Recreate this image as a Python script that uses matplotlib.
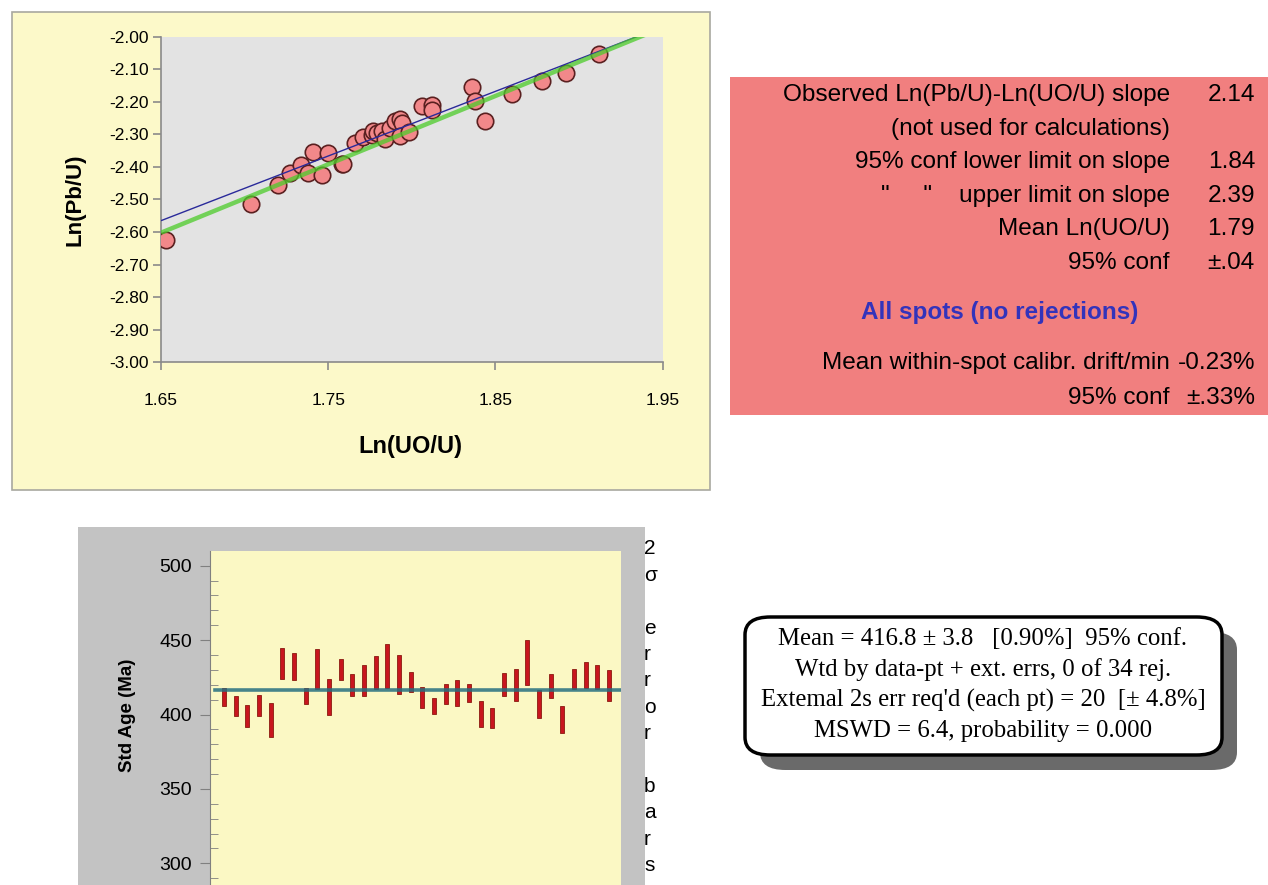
import matplotlib
matplotlib.use("Agg")
import matplotlib.pyplot as plt
from matplotlib.patches import Rectangle, FancyBboxPatch
import numpy as np

W, H = 1268, 885

# --- calibration scatter: Ln(UO/U) vs Ln(Pb/U) ---
ln_uo_u = [1.653, 1.704, 1.720, 1.727, 1.734, 1.738, 1.741, 1.746, 1.750,
           1.758, 1.759, 1.766, 1.771, 1.776, 1.777, 1.779, 1.782, 1.784,
           1.787, 1.790, 1.793, 1.794, 1.793, 1.798, 1.806, 1.812, 1.812,
           1.836, 1.838, 1.844, 1.860, 1.878, 1.892, 1.912]
ln_pb_u = [-2.624, -2.514, -2.455, -2.418, -2.394, -2.420, -2.353, -2.425, -2.358,
           -2.392, -2.392, -2.327, -2.307, -2.302, -2.289, -2.295, -2.289, -2.314,
           -2.280, -2.260, -2.254, -2.266, -2.305, -2.292, -2.212, -2.210, -2.225,
           -2.154, -2.198, -2.259, -2.175, -2.137, -2.111, -2.052]

# fit lines: value at x=1.65 and slope
fit_names = ["observed", "weighted"]
fit_start = [-2.565, -2.602]
fit_slope = [1.986, 2.10]
fit_colors = ["#2a2a9a", "#4ccc2a"]
fit_widths = [1.0, 3.2]

x_ticks = [1.65, 1.75, 1.85, 1.95]
y_ticks = [-3.0, -2.9, -2.8, -2.7, -2.6, -2.5, -2.4, -2.3, -2.2, -2.1, -2.0]

# --- standard ages with 2 sigma error bars ---
age_top = [417.5, 412.3, 406.7, 413.4, 407.9, 444.8, 441.5, 418.1, 443.7, 424.2,
           437.6, 427.5, 433.1, 439.2, 447.2, 440.3, 428.5, 418.6, 411.2, 420.4,
           423.0, 420.4, 409.0, 404.5, 428.2, 430.9, 450.4, 416.3, 427.5, 405.6,
           430.9, 435.4, 433.1, 429.8]
age_bottom = [405.6, 399.1, 391.3, 399.1, 385.0, 424.2, 423.1, 406.9, 417.0, 400.0,
              423.1, 412.6, 412.6, 417.0, 418.1, 414.1, 415.3, 404.5, 400.2, 406.9,
              405.6, 408.5, 391.7, 391.1, 412.6, 409.2, 419.7, 397.8, 411.4, 387.4,
              417.0, 418.1, 417.0, 409.2]
mean_age = 416.8

stats_labels = ["Observed Ln(Pb/U)-Ln(UO/U) slope",
                "(not used for calculations)",
                "95% conf lower limit on slope",
                "\"     \"    upper limit on slope",
                "Mean Ln(UO/U)",
                "95% conf",
                "Mean within-spot calibr. drift/min",
                "95% conf"]
stats_values = ["2.14", "", "1.84", "2.39", "1.79", "\u00b1.04", "-0.23%", "\u00b1.33%"]
stats_rows_y = [95, 129, 162, 196, 229, 263, 363, 398]

box_lines = ["Mean = 416.8 \u00b1 3.8   [0.90%]  95% conf.",
             "Wtd by data-pt + ext. errs, 0 of 34 rej.",
             "Extemal 2s err req'd (each pt) = 20  [\u00b1 4.8%]",
             "MSWD = 6.4, probability = 0.000"]

plt.rcParams['font.family'] = ['Liberation Sans', 'DejaVu Sans']


def px_rect(l, t, r, b):
    return [l / W, 1 - b / H, (r - l) / W, (b - t) / H]


fig = plt.figure(figsize=(W / 100, H / 100), dpi=100)
fig.patch.set_facecolor("white")

# backgrounds (behind the axes)
fig.patches.append(Rectangle((12 / W, 1 - 490 / H), 698 / W, 478 / H, transform=fig.transFigure,
                             facecolor="#fcf9c9", edgecolor="#a8a8a0", lw=1.2, zorder=-2))
fig.patches.append(Rectangle((78 / W, 0), 567 / W, 1 - 527 / H, transform=fig.transFigure,
                             facecolor="#c3c3c3", edgecolor="none", zorder=-2))
fig.patches.append(Rectangle((730 / W, 1 - 415 / H), 538 / W, 338 / H, transform=fig.transFigure,
                             facecolor="#f17f7f", edgecolor="none", zorder=-2))

# ---- scatter panel ----
ax = fig.add_axes(px_rect(161, 36.7, 662.7, 362.3))
ax.set_facecolor("#e3e3e3")
ax.scatter(ln_uo_u, ln_pb_u, s=140, facecolor="#f2888a", edgecolor="#5a2020", linewidth=1.2, zorder=3)
xx = np.array([1.65, 1.95])
for start, slope, col, lw in zip(fit_start, fit_slope, fit_colors, fit_widths):
    alpha = 1.0 if lw < 2 else 0.75
    ax.plot(xx, start + slope * (xx - 1.65), color=col, lw=lw, alpha=alpha, zorder=4,
            solid_capstyle="butt")
ax.set_xlim(1.65, 1.95)
ax.set_ylim(-3.0, -2.0)
ax.set_xticks(x_ticks)
ax.set_xticklabels([f"{v:.2f}" for v in x_ticks])
ax.set_yticks(y_ticks)
ax.set_yticklabels([f"{v:.2f}" for v in y_ticks])
for s in ["top", "right"]:
    ax.spines[s].set_visible(False)
for s in ["left", "bottom"]:
    ax.spines[s].set_color("#8a8a8a")
    ax.spines[s].set_linewidth(1.2)
ax.tick_params(axis="both", direction="out", length=6, color="#8a8a8a", labelsize=12.5, width=1.2)
ax.tick_params(axis="x", pad=16)
ax.tick_params(axis="y", pad=3)
fig.text(410 / W, 1 - 447 / H, "Ln(UO/U)", ha="center", va="center", fontsize=17, fontweight="bold")
fig.text(75 / W, 1 - 200 / H, "Ln(Pb/U)", ha="center", va="center", fontsize=16, fontweight="bold",
         rotation=90)

# ---- stats panel ----
for lab, val, y in zip(stats_labels, stats_values, stats_rows_y):
    fig.text(1170 / W, 1 - y / H, lab, ha="right", va="center", fontsize=17.6)
    if val:
        fig.text(1255 / W, 1 - y / H, val, ha="right", va="center", fontsize=17.6)
fig.text(1000 / W, 1 - 313 / H, "All spots (no rejections)", ha="center", va="center",
         fontsize=17.5, fontweight="bold", color="#3333bb")

# ---- error bar panel ----
bx = fig.add_axes(px_rect(210, 551, 621, 885))
bx.set_facecolor("#fbf8c4")
idx = np.arange(1, len(age_top) + 1)
heights = np.array(age_top) - np.array(age_bottom)
bx.bar(idx, heights, bottom=age_bottom, width=0.36, color="#c8161e", edgecolor="#8a1a10",
       linewidth=0.6, zorder=2)
bx.axhline(mean_age, xmin=0.012, xmax=1.0, color="#267080", lw=2.6, alpha=0.85, zorder=3)
bx.set_xlim(-0.2, 35.03)
bx.set_ylim(285.4, 509.9)
bx.set_xticks([])
bx.set_yticks([300, 350, 400, 450, 500])
bx.set_yticks(np.arange(290, 510, 10), minor=True)
for s in ["top", "right", "bottom"]:
    bx.spines[s].set_visible(False)
bx.spines["left"].set_color("#808080")
bx.tick_params(axis="y", which="major", direction="out", length=7, color="#808080", labelsize=14, pad=6)
bx.tick_params(axis="y", which="minor", direction="in", length=6, color="#808080")
fig.text(128 / W, 1 - 715 / H, "Std Age (Ma)", ha="center", va="center", fontsize=13.5,
         fontweight="bold", rotation=90)
side_chars = ["2", "\u03c3", "", "e", "r", "r", "o", "r", "", "b", "a", "r", "s"]
for i, ch in enumerate(side_chars):
    if ch:
        fig.text(644 / W, 1 - (549 + 26.4 * i) / H, ch, ha="left", va="center", fontsize=15)

# ---- summary box ----
shadow = FancyBboxPatch((760 / W, 1 - 770 / H), 477 / W, 138 / H, transform=fig.transFigure,
                        boxstyle="round,pad=0,rounding_size=0.02", facecolor="#6a6a6a",
                        edgecolor="none", zorder=1)
box = FancyBboxPatch((745 / W, 1 - 755 / H), 477 / W, 138 / H, transform=fig.transFigure,
                     boxstyle="round,pad=0,rounding_size=0.02", facecolor="white",
                     edgecolor="black", lw=2.5, zorder=2)
fig.patches.extend([shadow, box])
for i, line in enumerate(box_lines):
    fig.text(983 / W, 1 - (639 + 30.5 * i) / H, line, ha="center", va="center", fontsize=17.8,
             family=["Liberation Serif", "DejaVu Serif"], zorder=3)

fig.savefig("out.png", dpi=100)
